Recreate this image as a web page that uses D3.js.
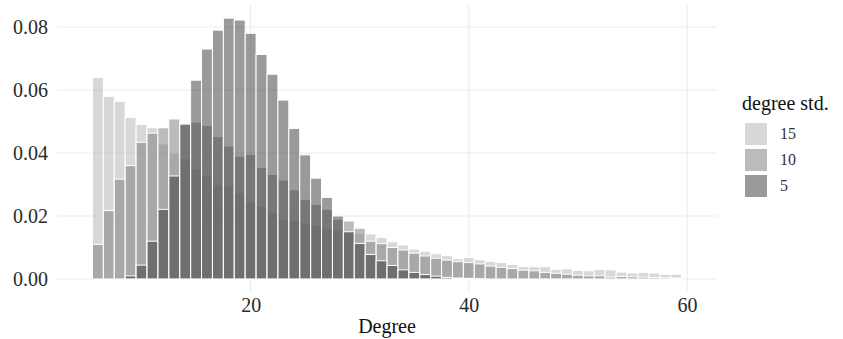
<!DOCTYPE html>
<html>
<head>
<meta charset="utf-8">
<script src="https://cdn.jsdelivr.net/npm/d3@7"></script>
<style>
  body { margin: 0; background: #fff; }
  svg { font-family: "Liberation Serif", serif; }
  .grid line { stroke: #ebebeb; stroke-width: 1.1; }
  .tick-label { fill: #2a2a2a; font-size: 20px; }
</style>
</head>
<body>
<svg width="843" height="339"></svg>
<script>
// degree bins (bin centres)
var degrees = [6, 7, 8, 9, 10, 11, 12, 13, 14, 15, 16, 17, 18, 19, 20, 21, 22, 23, 24, 25,
  26, 27, 28, 29, 30, 31, 32, 33, 34, 35, 36, 37, 38, 39, 40, 41, 42, 43, 44, 45,
  46, 47, 48, 49, 50, 51, 52, 53, 54, 55, 56, 57, 58, 59];

// density per bin
var std15 = [0.0640, 0.0580, 0.0564, 0.0513, 0.0491, 0.0480, 0.0429, 0.0400, 0.0383, 0.0349,
  0.0330, 0.0298, 0.0295, 0.0274, 0.0242, 0.0232, 0.0212, 0.0190, 0.0185, 0.0178,
  0.0170, 0.0160, 0.0155, 0.0150, 0.0145, 0.0143, 0.0132, 0.0118, 0.0108, 0.0095,
  0.0088, 0.0080, 0.0074, 0.0064, 0.0068, 0.0061, 0.0056, 0.0052, 0.0046, 0.0040,
  0.0039, 0.0039, 0.0031, 0.0032, 0.0027, 0.0026, 0.0030, 0.0029, 0.0022, 0.0019,
  0.0021, 0.0019, 0.0015, 0.0015];
var std10 = [0.0110, 0.0217, 0.0317, 0.0360, 0.0434, 0.0463, 0.0480, 0.0508, 0.0490, 0.0498,
  0.0487, 0.0452, 0.0422, 0.0390, 0.0395, 0.0354, 0.0332, 0.0314, 0.0283, 0.0253,
  0.0237, 0.0221, 0.0190, 0.0184, 0.0161, 0.0120, 0.0112, 0.0100, 0.0092, 0.0082,
  0.0073, 0.0066, 0.0060, 0.0055, 0.0052, 0.0048, 0.0041, 0.0037, 0.0033, 0.0028,
  0.0026, 0.0021, 0.0018, 0.0015, 0.0012, 0.0010, 0.0010, 0.0006, 0.0008, 0.0007,
  0.0006, 0.0005, 0.0004, 0.0003];
var std5 = [0, 0, 0, 0.0010, 0.0044, 0.0120, 0.0221, 0.0327, 0.0492, 0.0631,
  0.0730, 0.0790, 0.0828, 0.0822, 0.0780, 0.0713, 0.0650, 0.0568, 0.0478, 0.0394,
  0.0320, 0.0259, 0.0200, 0.0150, 0.0113, 0.0078, 0.0058, 0.0043, 0.0029, 0.0021,
  0.0014, 0.0009, 0.0005, 0.0003, 0.0002, 0.0001, 0, 0, 0, 0,
  0, 0, 0, 0, 0, 0, 0, 0, 0, 0,
  0, 0, 0, 0];

var xTicks = [20, 40, 60];
var yTicks = [0, 0.02, 0.04, 0.06, 0.08];

var series = [
  { key: "15", values: std15, fill: "#b1b1b1" },
  { key: "10", values: std10, fill: "#777777" },
  { key: "5", values: std5, fill: "#353535" }
];

var svg = d3.select("svg");

var panel = { left: 57, right: 717, top: 5, bottom: 292 };

var x = d3.scaleLinear()
    .domain([2.25, 62.75])
    .range([panel.left, panel.right]);
var y = d3.scaleLinear()
    .domain([-0.00413, 0.08698])
    .range([panel.bottom, panel.top]);

// grid
var grid = svg.append("g").attr("class", "grid");
grid.selectAll(".gy")
    .data(yTicks)
  .enter().append("line")
    .attr("x1", panel.left).attr("x2", panel.right)
    .attr("y1", function(d) { return y(d); })
    .attr("y2", function(d) { return y(d); });
grid.selectAll(".gx")
    .data(xTicks)
  .enter().append("line")
    .attr("y1", panel.top).attr("y2", panel.bottom)
    .attr("x1", function(d) { return x(d); })
    .attr("x2", function(d) { return x(d); });

// bars, drawn over each other with alpha
series.forEach(function(s) {
    svg.append("g")
        .attr("class", "bars")
      .selectAll("rect")
        .data(degrees)
      .enter().append("rect")
        .attr("x", function(d) { return x(d - 0.5); })
        .attr("width", function(d) { return x(d + 0.5) - x(d - 0.5); })
        .attr("y", function(d, i) { return y(s.values[i]); })
        .attr("height", function(d, i) { return y(0) - y(s.values[i]); })
        .attr("fill", s.fill)
        .attr("fill-opacity", 0.5)
        .attr("stroke", "#fff")
        .attr("stroke-width", 1);
});

// axes: labels only, no domain or tick lines
function bare(g) {
    g.attr("font-family", null).attr("font-size", null);
    g.select(".domain").remove();
    g.selectAll("text")
        .attr("class", "tick-label")
        .attr("fill", null);
}

svg.append("g")
    .attr("transform", "translate(" + panel.left + ",0)")
    .call(d3.axisLeft(y)
        .tickValues(yTicks)
        .tickFormat(d3.format(".2f"))
        .tickSize(0)
        .tickPadding(9))
    .call(bare);

svg.append("g")
    .attr("transform", "translate(0," + panel.bottom + ")")
    .call(d3.axisBottom(x)
        .tickValues(xTicks)
        .tickFormat(d3.format("d"))
        .tickSize(0)
        .tickPadding(6))
    .call(bare);

svg.append("text")
    .attr("x", (panel.left + panel.right) / 2)
    .attr("y", 333)
    .attr("text-anchor", "middle")
    .attr("font-size", 20)
    .attr("fill", "#111")
    .text("Degree");

// legend
var legend = svg.append("g").attr("transform", "translate(742,0)");
legend.append("text")
    .attr("x", 0)
    .attr("y", 110)
    .attr("font-size", 20)
    .attr("fill", "#111")
    .text("degree std.");
var item = legend.selectAll(".item")
    .data(series)
  .enter().append("g")
    .attr("transform", function(d, i) { return "translate(3," + (123 + i * 26) + ")"; });
item.append("rect")
    .attr("width", 22)
    .attr("height", 22)
    .attr("fill", function(d) { return d.fill; })
    .attr("fill-opacity", 0.5);
item.append("text")
    .attr("x", 35)
    .attr("y", 16)
    .attr("font-size", 16)
    .attr("fill", "#333")
    .text(function(d) { return d.key; });
</script>
</body>
</html>
